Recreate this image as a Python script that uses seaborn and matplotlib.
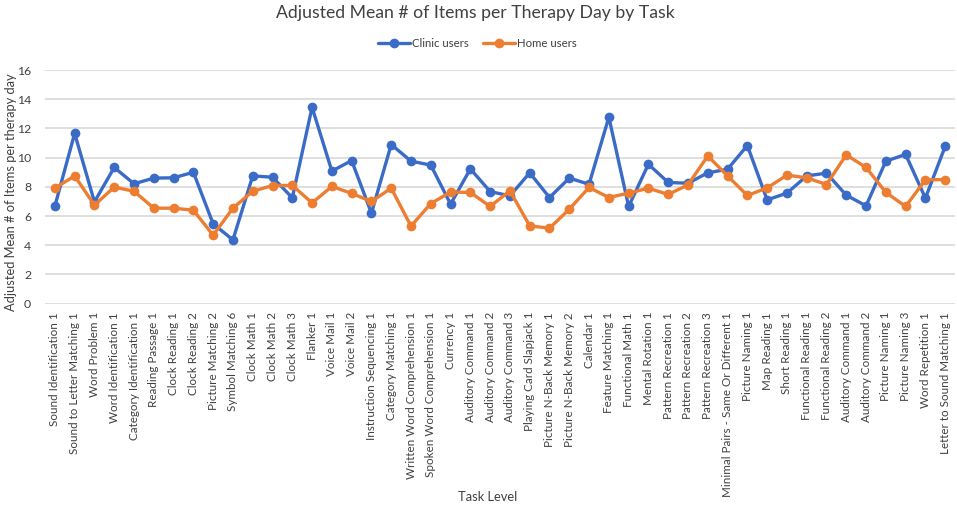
import pandas as pd
import matplotlib
matplotlib.use('Agg')
import matplotlib.pyplot as plt
import seaborn as sns

# Task levels (note: some names repeat, so we plot by position)
tasks = [
    'Sound Identification 1', 'Sound to Letter Matching 1', 'Word Problem 1',
    'Word Identification 1', 'Category Identification 1', 'Reading Passage 1',
    'Clock Reading 1', 'Clock Reading 2', 'Picture Matching 2', 'Symbol Matching 6',
    'Clock Math 1', 'Clock Math 2', 'Clock Math 3', 'Flanker 1', 'Voice Mail 1',
    'Voice Mail 2', 'Instruction Sequencing 1', 'Category Matching 1',
    'Written Word Comprehension 1', 'Spoken Word Comprehension 1', 'Currency 1',
    'Auditory Command 1', 'Auditory Command 2', 'Auditory Command 3',
    'Playing Card Slapjack 1', 'Picture N-Back Memory 1', 'Picture N-Back Memory 2',
    'Calendar 1', 'Feature Matching 1', 'Functional Math 1', 'Mental Rotation 1',
    'Pattern Recreation 1', 'Pattern Recreation 2', 'Pattern Recreation 3',
    'Minimal Pairs - Same Or Different 1', 'Picture Naming 1', 'Map Reading 1',
    'Short Reading 1', 'Functional Reading 1', 'Functional Reading 2',
    'Auditory Command 1', 'Auditory Command 2', 'Picture Naming 1',
    'Picture Naming 3', 'Word Repetition 1', 'Letter to Sound Matching 1',
]

clinic = [6.68, 11.66, 6.97, 9.33, 8.21, 8.6, 8.62, 9.0, 5.47, 4.37,
          8.75, 8.66, 7.25, 13.45, 9.08, 9.8, 6.2, 10.9, 9.76, 9.49,
          6.82, 9.23, 7.68, 7.38, 8.96, 7.27, 8.6, 8.18, 12.77, 6.66,
          9.55, 8.3, 8.25, 8.96, 9.21, 10.83, 7.11, 7.57, 8.75, 8.94,
          7.43, 6.7, 9.76, 10.22, 7.23, 10.77]

home = [7.91, 8.75, 6.75, 7.98, 7.7, 6.54, 6.54, 6.4, 4.69, 6.54,
        7.7, 8.09, 8.1, 6.9, 8.03, 7.55, 7.0, 7.91, 5.31, 6.86,
        7.64, 7.62, 6.66, 7.73, 5.33, 5.17, 6.47, 7.96, 7.27, 7.57,
        7.91, 7.48, 8.14, 10.12, 8.75, 7.41, 7.93, 8.8, 8.62, 8.16,
        10.19, 9.33, 7.62, 6.66, 8.48, 8.5]

series_names = ['Clinic users', 'Home users']
colors = ['#3A6BC6', '#ED7D31']

df = pd.DataFrame({
    'pos': list(range(len(tasks))) * 2,
    'value': clinic + home,
    'group': [series_names[0]] * len(tasks) + [series_names[1]] * len(tasks),
})

sns.set_style('white')
plt.rcParams['font.family'] = ['Lato', 'DejaVu Sans']
text_col = '#404040'

fig = plt.figure(figsize=(9.57, 5.13), dpi=100)
ax = fig.add_axes([0.047, 0.408, 0.951, 0.4555])

sns.lineplot(data=df, x='pos', y='value', hue='group', palette=colors,
             marker='o', markersize=7, markeredgewidth=0, linewidth=2.4,
             sort=False, ax=ax, legend=True)

ax.set_ylim(0, 16)
ax.set_yticks(range(0, 17, 2))
ax.set_xlim(-0.5, len(tasks) - 0.5)
ax.set_xticks(range(len(tasks)))
ax.set_xticklabels(tasks, rotation=90, fontsize=8.4, color=text_col)
ax.tick_params(axis='y', labelsize=8.8, labelcolor=text_col, length=0, pad=10)
ax.tick_params(axis='x', length=0, pad=6)
ax.yaxis.grid(True, color='#D9D9D9', linewidth=1.2)
ax.set_axisbelow(True)
for s in ax.spines.values():
    s.set_visible(False)

ax.set_xlabel('')
ax.set_ylabel('')
fig.text(0.011, 0.625, 'Adjusted Mean # of Items per therapy day', rotation=90,
         ha='center', va='center', fontsize=9.3, color=text_col)
fig.text(0.51, 0.031, 'Task Level', ha='center', va='center',
         fontsize=9.3, color=text_col)

fig.suptitle('Adjusted Mean # of Items per Therapy Day by Task', x=0.497, y=0.99,
             fontsize=12.7, color=text_col)

leg = ax.legend(loc='center', bbox_to_anchor=(0.475, 1.115), ncol=2, frameon=False,
                fontsize=8.2, handlelength=2.8, columnspacing=1.3, handletextpad=0.15)
for t in leg.get_texts():
    t.set_color(text_col)

fig.savefig('out.png', dpi=100)
